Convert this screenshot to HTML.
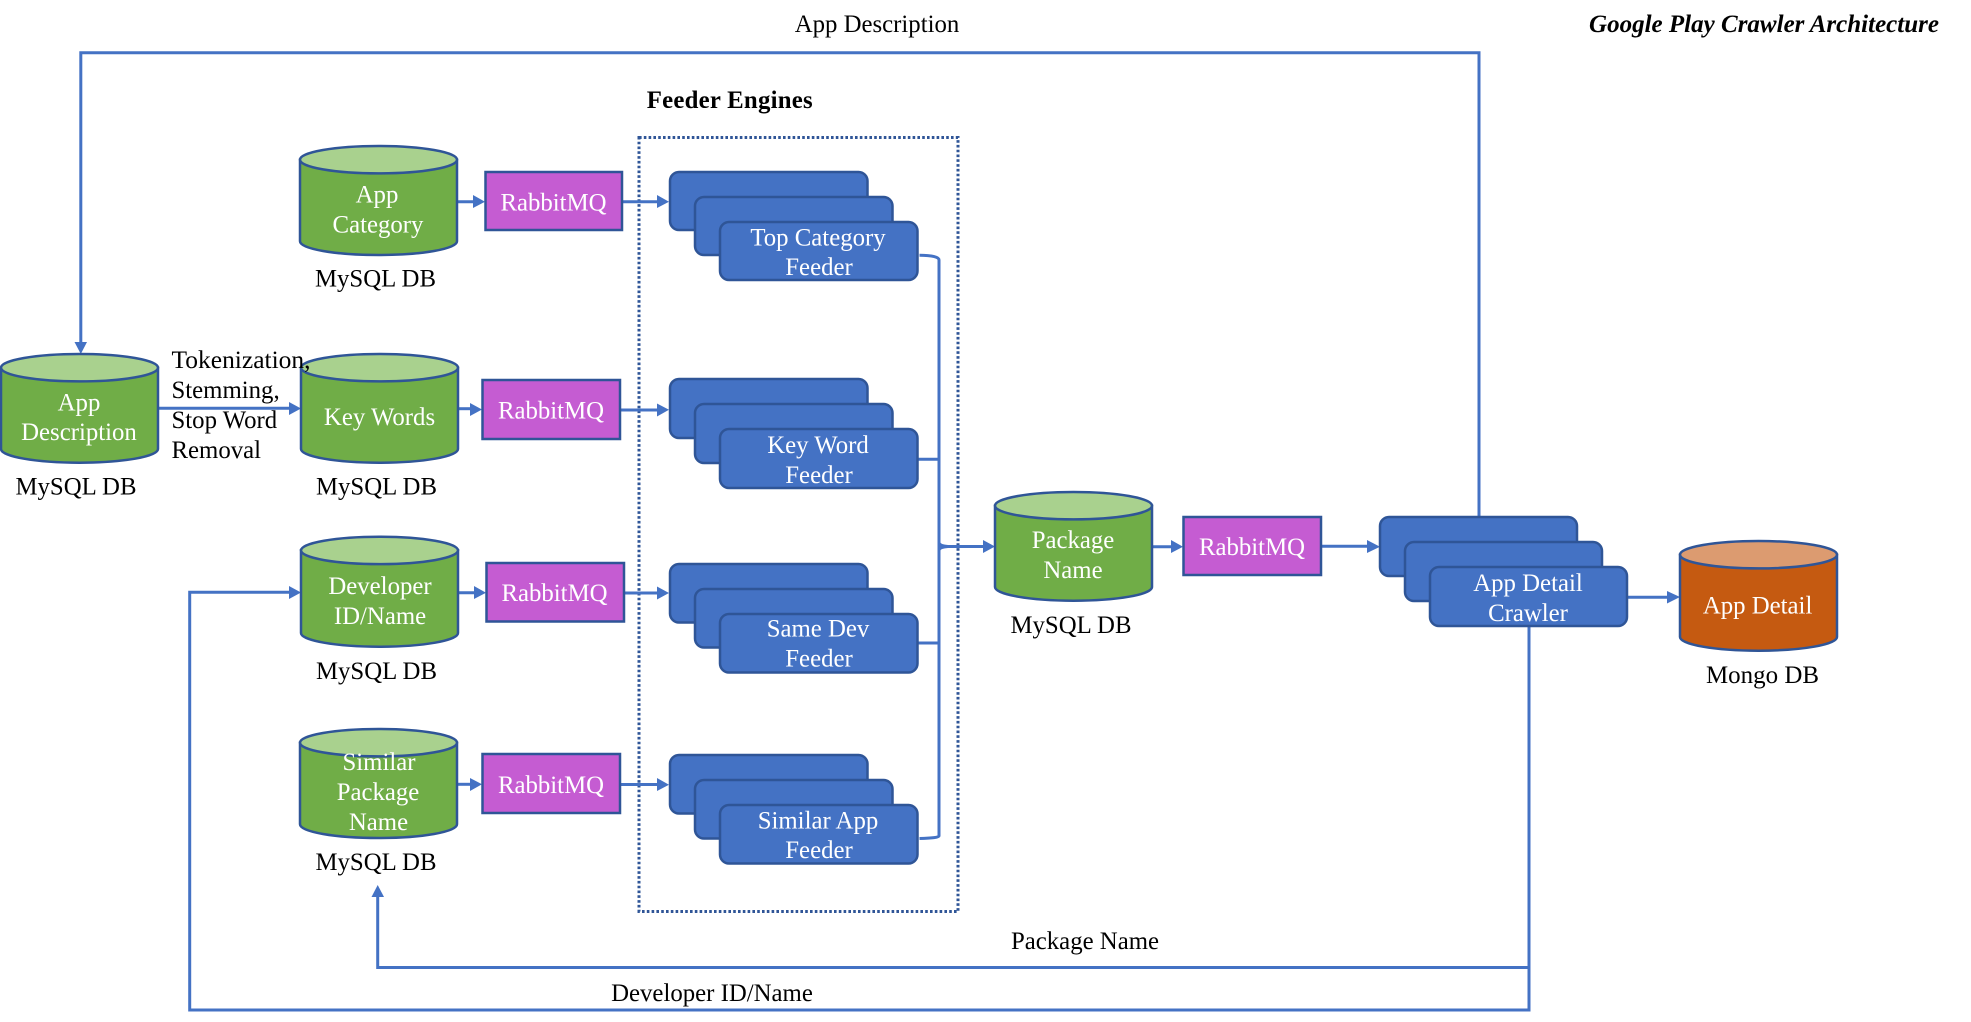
<!DOCTYPE html>
<html><head><meta charset="utf-8"><title>Google Play Crawler Architecture</title>
<style>
html,body{margin:0;padding:0;background:#fff;width:1971px;height:1022px;overflow:hidden}
svg{display:block}
text{font-family:"Liberation Serif",serif;font-size:24.8px;fill:#000}
.c text,text.w{fill:#fff;text-anchor:middle}
text.m{text-anchor:middle}
.l{fill:none;stroke:#4472C4;stroke-width:3}
.h{fill:#4472C4;stroke:none}
.g{fill:#70AD47;stroke:#2F5597;stroke-width:2.5}
.gt{fill:#A9D18E;stroke:#2F5597;stroke-width:2.5}
.o{fill:#C55A11;stroke:#2F5597;stroke-width:2.5}
.ot{fill:#DC9B70;stroke:#2F5597;stroke-width:2.5}
.r{fill:#C55CD2;stroke:#2F5597;stroke-width:2.5}
.b{fill:#4472C4;stroke:#2F5597;stroke-width:2.5}
</style></head><body>
<svg width="1971" height="1022" viewBox="0 0 1971 1022" xmlns="http://www.w3.org/2000/svg">
<rect width="1971" height="1022" fill="#fff"/>

<!-- Feeder box -->
<rect x="639" y="137.5" width="319" height="774" fill="none" stroke="#2F5597" stroke-width="3" stroke-dasharray="2.6 2.2"/>

<!-- Connectors -->
<path class="l" d="M1479 517V52.7H80.8V343"/>
<polygon class="h" points="74.5,342 87,342 80.8,354"/>
<path class="l" d="M158 408.3H290"/><polygon class="h" points="289,402 289,415 301,408.5"/>
<path class="l" d="M457 201.7H474"/><polygon class="h" points="473,195 473,208 485,201.7"/>
<path class="l" d="M458 408.7H471"/><polygon class="h" points="470,403 470,416 482,409.5"/>
<path class="l" d="M458 592.7H475"/><polygon class="h" points="474,586 474,599 486,592.7"/>
<path class="l" d="M457 784.3H471"/><polygon class="h" points="470,778 470,791 482,784.3"/>
<path class="l" d="M622 201.7H658"/><polygon class="h" points="657,195 657,208 669,201.7"/>
<path class="l" d="M620 410H658"/><polygon class="h" points="657,403.5 657,416.5 669,409.7"/>
<path class="l" d="M624 593H658"/><polygon class="h" points="657,586.5 657,599.5 669,593"/>
<path class="l" d="M620 784.5H658"/><polygon class="h" points="657,778 657,791 669,784.7"/>
<!-- Bus -->
<path class="l" d="M919.5 255.3Q939 255.5 939 260V836Q939 838 919.5 838.5"/>
<path class="l" d="M917 459.3H939M917 643H939"/>
<path class="l" d="M939 543Q940 546 948 546.5H984"/><path class="l" d="M939 550Q940 547 948 546.5"/>
<polygon class="h" points="983,540 983,553 995,546.5"/>
<path class="l" d="M1152 546.7H1172"/><polygon class="h" points="1171,540 1171,553 1183,546.7"/>
<path class="l" d="M1321 546.2H1368"/><polygon class="h" points="1367,540 1367,553 1380,546.7"/>
<path class="l" d="M1627 597.2H1668"/><polygon class="h" points="1667,591 1667,603.5 1680,597"/>
<!-- Feedback -->
<path class="l" d="M1529 626V1010H189.7V592.3H290"/>
<polygon class="h" points="289,586 289,599 301,592.5"/>
<path class="l" d="M1529 967.5H377.7V896"/>
<polygon class="h" points="371.5,897 384,897 377.7,885"/>

<!-- Cylinders -->
<path class="g" d="M300 159.7V241.3A78.5 13.7 0 0 0 457 241.3V159.7Z"/><ellipse class="gt" cx="378.5" cy="159.7" rx="78.5" ry="13.7"/>
<path class="g" d="M1 367.7V449A78.5 13.7 0 0 0 158 449V367.7Z"/><ellipse class="gt" cx="79.5" cy="367.7" rx="78.5" ry="13.7"/>
<path class="g" d="M301 367.7V449A78.5 13.7 0 0 0 458 449V367.7Z"/><ellipse class="gt" cx="379.5" cy="367.7" rx="78.5" ry="13.7"/>
<path class="g" d="M301 550.4V633A78.5 13.7 0 0 0 458 633V550.4Z"/><ellipse class="gt" cx="379.5" cy="550.4" rx="78.5" ry="13.7"/>
<path class="g" d="M300 742.7V824.3A78.5 13.7 0 0 0 457 824.3V742.7Z"/><ellipse class="gt" cx="378.5" cy="742.7" rx="78.5" ry="13.7"/>
<path class="g" d="M995 505.7V587A78.5 13.7 0 0 0 1152 587V505.7Z"/><ellipse class="gt" cx="1073.5" cy="505.7" rx="78.5" ry="13.7"/>
<path class="o" d="M1680 554.7V637A78.5 13.7 0 0 0 1837 637V554.7Z"/><ellipse class="ot" cx="1758.5" cy="554.7" rx="78.5" ry="13.7"/>

<!-- RabbitMQ -->
<rect class="r" x="485.5" y="172" width="136.5" height="58"/>
<rect class="r" x="482.5" y="380" width="137.5" height="59"/>
<rect class="r" x="486.5" y="563" width="137.5" height="58.5"/>
<rect class="r" x="482.5" y="754" width="137.5" height="59"/>
<rect class="r" x="1183.5" y="517" width="137.5" height="58"/>

<!-- Stacks -->
<rect class="b" x="670" y="172" width="197.5" height="58" rx="9"/><rect class="b" x="695" y="197" width="197.5" height="58" rx="9"/><rect class="b" x="720" y="222" width="197.5" height="58" rx="9"/>
<rect class="b" x="670" y="379" width="197.5" height="59" rx="9"/><rect class="b" x="695" y="404" width="197.5" height="59" rx="9"/><rect class="b" x="720" y="429" width="197.5" height="59" rx="9"/>
<rect class="b" x="670" y="564" width="197.5" height="58.5" rx="9"/><rect class="b" x="695" y="589" width="197.5" height="58.5" rx="9"/><rect class="b" x="720" y="614" width="197.5" height="58.5" rx="9"/>
<rect class="b" x="670" y="755" width="197.5" height="58.5" rx="9"/><rect class="b" x="695" y="780" width="197.5" height="58.5" rx="9"/><rect class="b" x="720" y="805" width="197.5" height="58.5" rx="9"/>
<rect class="b" x="1380" y="517" width="197" height="59" rx="9"/><rect class="b" x="1405" y="542" width="197" height="59" rx="9"/><rect class="b" x="1430" y="567" width="197" height="59" rx="9"/>

<!-- White labels -->
<g class="c">
<text x="377" y="202.6">App</text><text x="378" y="232.7">Category</text>
<text x="79" y="410.3">App</text><text x="79" y="439.8">Description</text>
<text x="379.5" y="425">Key Words</text>
<text x="380" y="594">Developer</text><text x="380" y="624">ID/Name</text>
<text x="379" y="770">Similar</text><text x="378" y="800">Package</text><text x="378.5" y="830">Name</text>
<text x="1073" y="548">Package</text><text x="1073" y="578">Name</text>
<text x="1757.6" y="613.7">App Detail</text>
<text x="553.5" y="210.7">RabbitMQ</text>
<text x="551" y="418.7">RabbitMQ</text>
<text x="554.5" y="601">RabbitMQ</text>
<text x="551" y="793">RabbitMQ</text>
<text x="1252" y="555">RabbitMQ</text>
<text x="818" y="245.3">Top Category</text><text x="819" y="275">Feeder</text>
<text x="818" y="453">Key Word</text><text x="819" y="483">Feeder</text>
<text x="818" y="636.7">Same Dev</text><text x="819" y="666.7">Feeder</text>
<text x="818" y="828.7">Similar App</text><text x="819" y="858">Feeder</text>
<text x="1528" y="591">App Detail</text><text x="1528" y="621">Crawler</text>
</g>

<!-- Black labels -->
<text class="m" x="375.5" y="286.7">MySQL DB</text>
<text class="m" x="76" y="494.7">MySQL DB</text>
<text class="m" x="376.5" y="494.7">MySQL DB</text>
<text class="m" x="376.5" y="679">MySQL DB</text>
<text class="m" x="376" y="870">MySQL DB</text>
<text class="m" x="1071" y="633">MySQL DB</text>
<text class="m" x="1772.5" y="683" style="display:none"></text>
<text class="m" x="1772" y="683" textLength="113" lengthAdjust="spacingAndGlyphs" style="text-anchor:middle" transform="translate(-9.5 0)">Mongo DB</text>
<text x="171.5" y="368" textLength="139" lengthAdjust="spacingAndGlyphs">Tokenization,</text>
<text x="171.5" y="398">Stemming,</text>
<text x="171.5" y="428">Stop Word</text>
<text x="171.5" y="458">Removal</text>
<text class="m" x="881" y="32" transform="translate(-4 0)">App Description</text>
<text class="m" x="1085" y="949">Package Name</text>
<text class="m" x="712" y="1001">Developer ID/Name</text>
<text x="646.7" y="108" font-weight="bold" textLength="166" lengthAdjust="spacing">Feeder Engines</text>
<text x="1589" y="32" font-weight="bold" font-style="italic" textLength="350" lengthAdjust="spacingAndGlyphs">Google Play Crawler Architecture</text>
</svg>
</body></html>
